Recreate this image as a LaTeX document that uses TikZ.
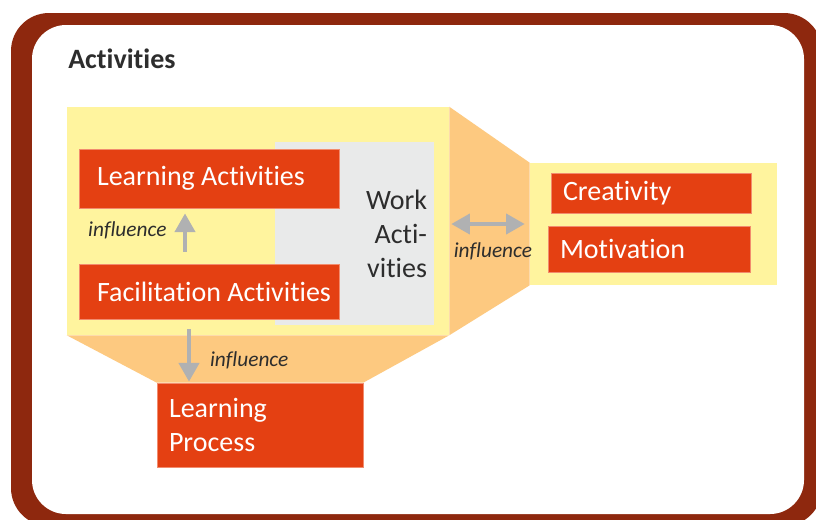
\documentclass[tikz,border=0pt]{standalone}
\usepackage{fontspec}
\setmainfont{Carlito}[Ligatures=NoCommon]
\usetikzlibrary{arrows.meta}
\definecolor{framered}{RGB}{142,40,14}
\definecolor{boxred}{RGB}{228,64,18}
\definecolor{boxedge}{RGB}{242,140,110}
\definecolor{paleyellow}{RGB}{255,244,158}
\definecolor{paleorange}{RGB}{253,201,128}
\definecolor{workgray}{RGB}{233,234,234}
\definecolor{arrowgray}{RGB}{176,177,178}
\definecolor{darktext}{RGB}{45,45,45}

\begin{document}
\begin{tikzpicture}[%
 x=0.75pt,y=-0.75pt,
 block/.style={
 	rectangle,
 	draw=boxedge,
 	line width=0.6pt,
 	fill=boxred,
 	text=white,
 	align=flush left,
 	inner xsep=9pt,
 	inner ysep=0pt,
 	font=\fontsize{21}{25.5}\selectfont
 },
 group/.style={
 	rectangle,
 	fill=paleyellow,
 	inner sep=0pt
 },
 work/.style={
 	rectangle,
 	fill=workgray,
 	text=darktext,
 	align=flush right,
 	text width=108.75pt,
 	inner xsep=5.25pt,
 	minimum height=137.25pt,
 	font=\fontsize{21}{25.5}\selectfont
 },
 trap/.style={
 	fill=paleorange
 },
 line/.style={
 	draw=arrowgray,
 	line width=3pt,
 	-{Triangle[width=15pt,length=14pt]}
 },
 twoway/.style={
 	draw=arrowgray,
 	line width=3pt,
 	{Triangle[width=15pt,length=14pt]}-{Triangle[width=15pt,length=14pt]}
 },
 lbl/.style={
 	text=darktext,
 	font=\fontsize{16}{19}\selectfont\itshape
 },
 title/.style={
 	text=darktext,
 	inner sep=0pt,
 	font=\fontsize{21}{24}\selectfont\bfseries
 }
 ]
 \clip (0,0) rectangle (816,519);
 \fill[framered, rounded corners=28.5pt] (11,13) rectangle (822,526);
 \fill[white, rounded corners=25.5pt] (32,25) rectangle (804,514);
 \node[title, anchor=base west] (head) at (68,68) {Activities};

 \path (258,221) node[group, minimum width=286.5pt, minimum height=171pt] (acts) {}
 (653.5,224) node[group, minimum width=185.25pt, minimum height=91.5pt] (pers) {};
 \draw (260,425) node[block, text width=136.5pt, minimum height=63pt] (lp) {Learning\\Process};
 \fill[trap] (acts.north east) -- (pers.north west) -- (pers.south west) -- (acts.south east) -- cycle;
 \fill[trap] (acts.south west) -- (acts.south east) -- (lp.north east) -- (lp.north west) -- cycle;

 \draw (354.5,233.5) node[work] (wa) {Work\\Acti-\\vities\\[-8pt]};
 \path (209,178.5) node[block, inner xsep=13.5pt, text width=168pt, minimum height=44.25pt] (la) {Learning Activities}
 (209,291.5) node[block, inner xsep=13.5pt, text width=168pt, minimum height=41.25pt] (fa) {\mbox{Facilitation Activities}}
 (651,193) node[block, text width=132pt, minimum height=30pt] (cr) {Creativity}
 (649,249) node[block, text width=133.5pt, minimum height=34.5pt] (mo) {Motivation};

%\draw (fa.north) -- (la.south);
\draw[line, shorten <=9pt, shorten >=3.75pt] ([xshift=-18pt]fa.north) -- ([xshift=-18pt]la.south) node[lbl, left=9pt, pos=0.6] {influence};
\draw[line, shorten <=7.5pt, shorten >=0.75pt] ([xshift=-15pt]fa.south) -- ([xshift=-53.25pt]lp.north) node[lbl, right=11pt, pos=0.65] {influence};
\draw[twoway, shorten <=1.5pt, shorten >=3.75pt] (acts.east |- pers.west) -- (pers.west) node[lbl, below=9pt, xshift=2.6pt, midway] {influence};
 \end{tikzpicture}
\end{document}
